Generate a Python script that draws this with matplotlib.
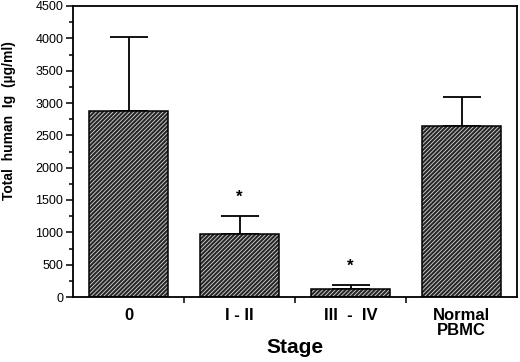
import matplotlib
matplotlib.use("Agg")
import matplotlib.pyplot as plt
from matplotlib.ticker import MultipleLocator, FixedLocator, NullFormatter

plt.rcParams['font.family'] = ['Liberation Sans', 'DejaVu Sans']
plt.rcParams['hatch.linewidth'] = 0.6

categories = ["0", "I - II", "III  -  IV", "Normal\nPBMC"]
means = [2870, 975, 120, 2640]
errors_up = [1150, 285, 65, 450]
significant = [False, True, True, False]

fig = plt.figure(figsize=(5.2, 3.62), dpi=100)
ax = fig.add_axes([73/520, 1 - 297/362, (517 - 73)/520, (297 - 6)/362])

x = list(range(len(categories)))
width = 0.72

# error bars (upper only)
ax.errorbar(x, means, yerr=[[0]*len(means), errors_up], fmt='none',
            ecolor='black', elinewidth=1.3, capsize=14, capthick=1.3, zorder=1)

# hatched fill
ax.bar(x, means, width=width, color='#262626', edgecolor='#d8d8d8',
       hatch='////////', linewidth=0, zorder=2)
# outline
ax.bar(x, means, width=width, fill=False, edgecolor='black', linewidth=1.1, zorder=3)

for xi, m, e, s in zip(x, means, errors_up, significant):
    if s:
        ax.text(xi, m + e + 290, "*", ha='center', va='center', fontsize=12,
                fontweight='bold')

ax.set_xlim(-0.5, 3.5)
ax.set_ylim(0, 4500)

ax.yaxis.set_major_locator(MultipleLocator(500))
ax.yaxis.set_minor_locator(MultipleLocator(250))
ax.tick_params(axis='y', which='major', direction='out', length=5, width=1.1, labelsize=9, pad=2)
ax.tick_params(axis='y', which='minor', direction='out', length=3, width=1.1)

ax.set_xticks(x)
ax.set_xticklabels(categories, fontweight='bold', fontsize=12, linespacing=0.95)
ax.tick_params(axis='x', which='major', length=0, pad=8)
ax.xaxis.set_minor_locator(FixedLocator([0.5, 1.5, 2.5]))
ax.xaxis.set_minor_formatter(NullFormatter())
ax.tick_params(axis='x', which='minor', direction='out', length=4, width=1.1)

for sp in ax.spines.values():
    sp.set_linewidth(1.3)

ax.set_xlabel("Stage", fontsize=15, fontweight='bold', labelpad=0)
ax.set_ylabel("Total  human  Ig  (\u00b5g/ml)", fontsize=10, fontweight='bold')
ax.yaxis.set_label_coords(-0.128, 0.605)

fig.savefig("out.png", dpi=100)
